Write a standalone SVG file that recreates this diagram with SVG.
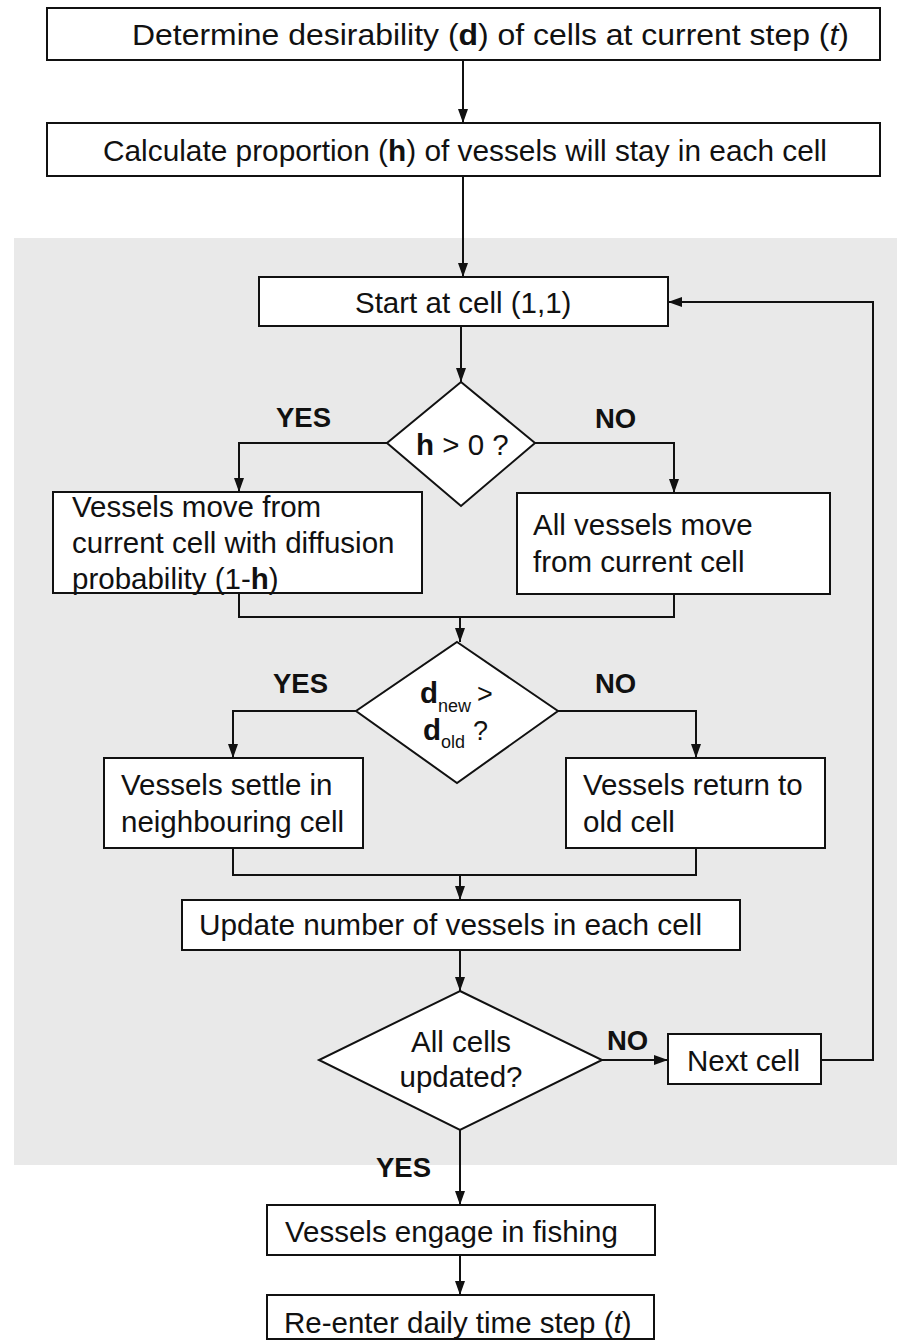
<svg xmlns="http://www.w3.org/2000/svg" width="897" height="1340" viewBox="0 0 897 1340">
<style>
.box{fill:#fff;stroke:#111;stroke-width:2}
.t{font-family:"Liberation Sans",Arial,sans-serif;font-size:29.5px;fill:#111}
.b{font-weight:bold}
.lbl{font-family:"Liberation Sans",Arial,sans-serif;font-size:27.5px;font-weight:bold;fill:#111}
.sub{font-size:18px}
.ln{fill:none;stroke:#111;stroke-width:2}
</style>
<defs>
<marker id="ah" markerUnits="userSpaceOnUse" markerWidth="14" markerHeight="10" refX="14" refY="5" orient="auto">
<path d="M0,0 L14,5 L0,10 z" fill="#111"/>
</marker>
</defs>
<rect width="897" height="1340" fill="#fff"/>
<rect x="14" y="238" width="883" height="927" fill="#e9e9e9"/>

<g id="connectors">
<path class="ln" d="M463,60 V123" marker-end="url(#ah)"/>
<path class="ln" d="M463,176 V277" marker-end="url(#ah)"/>
<path class="ln" d="M461,326 V382" marker-end="url(#ah)"/>
<path class="ln" d="M388,443 H239 V492" marker-end="url(#ah)"/>
<path class="ln" d="M535,443 H674 V493" marker-end="url(#ah)"/>
<path class="ln" d="M239,593 V617 H674 V594"/>
<path class="ln" d="M460,617 V642" marker-end="url(#ah)"/>
<path class="ln" d="M356,711 H233 V758" marker-end="url(#ah)"/>
<path class="ln" d="M558,711 H696 V758" marker-end="url(#ah)"/>
<path class="ln" d="M233,848 V875 H696 V848"/>
<path class="ln" d="M460,875 V900" marker-end="url(#ah)"/>
<path class="ln" d="M460,950 V991" marker-end="url(#ah)"/>
<path class="ln" d="M602,1060 H668" marker-end="url(#ah)"/>
<path class="ln" d="M821,1060 H873 V302 H668" marker-end="url(#ah)"/>
<path class="ln" d="M460,1130 V1205" marker-end="url(#ah)"/>
<path class="ln" d="M460,1255 V1295" marker-end="url(#ah)"/>
</g>

<g id="determine">
<rect class="box" x="47" y="8" width="833" height="52"/>
<text class="t" x="132" y="45" textLength="717" lengthAdjust="spacingAndGlyphs">Determine desirability (<tspan class="b">d</tspan>) of cells at current step (<tspan font-style="italic">t</tspan>)</text>
</g>

<g id="calculate">
<rect class="box" x="47" y="123" width="833" height="53"/>
<text class="t" x="103" y="161" textLength="724" lengthAdjust="spacingAndGlyphs">Calculate proportion (<tspan class="b">h</tspan>) of vessels will stay in each cell</text>
</g>

<g id="start">
<rect class="box" x="259" y="277" width="409" height="49"/>
<text class="t" x="355" y="313">Start at cell (1,1)</text>
</g>

<g id="d1">
<polygon class="box" points="461,382 535,443 461,506 387,443"/>
<text class="t" x="416" y="455"><tspan class="b">h</tspan> &gt; 0 ?</text>
</g>
<g id="yes1"><text class="lbl" x="276" y="427">YES</text></g>
<g id="no1"><text class="lbl" x="595" y="428">NO</text></g>

<g id="movefrac">
<rect class="box" x="53" y="492" width="369" height="101"/>
<text class="t" x="72" y="517">Vessels move from</text>
<text class="t" x="72" y="553">current cell with diffusion</text>
<text class="t" x="72" y="589">probability (1-<tspan class="b">h</tspan>)</text>
</g>

<g id="moveall">
<rect class="box" x="517" y="493" width="313" height="101"/>
<text class="t" x="533" y="535">All vessels move</text>
<text class="t" x="533" y="572">from current cell</text>
</g>

<g id="d2">
<polygon class="box" points="457,642 558,711 457,783 356,711"/>
<text class="t" x="420" y="703"><tspan class="b">d</tspan><tspan class="sub" dy="9" dx="0">new</tspan><tspan dy="-9" dx="6" font-size="27">&gt;</tspan></text>
<text class="t" x="423" y="740"><tspan class="b">d</tspan><tspan class="sub" dy="8">old</tspan><tspan dy="-8" dx="8" font-size="27">?</tspan></text>
</g>
<g id="yes2"><text class="lbl" x="273" y="693">YES</text></g>
<g id="no2"><text class="lbl" x="595" y="693">NO</text></g>

<g id="settle">
<rect class="box" x="104" y="758" width="259" height="90"/>
<text class="t" x="121" y="795">Vessels settle in</text>
<text class="t" x="121" y="832">neighbouring cell</text>
</g>

<g id="return">
<rect class="box" x="566" y="758" width="259" height="90"/>
<text class="t" x="583" y="795">Vessels return to</text>
<text class="t" x="583" y="832">old cell</text>
</g>

<g id="update">
<rect class="box" x="182" y="900" width="558" height="50"/>
<text class="t" x="199" y="935" textLength="503" lengthAdjust="spacingAndGlyphs">Update number of vessels in each cell</text>
</g>

<g id="d3">
<polygon class="box" points="460,991 602,1060 460,1130 319,1060"/>
<text class="t" x="461" y="1052" text-anchor="middle">All cells</text>
<text class="t" x="461" y="1087" text-anchor="middle">updated?</text>
</g>
<g id="no3"><text class="lbl" x="607" y="1050">NO</text></g>

<g id="next">
<rect class="box" x="668" y="1034" width="153" height="50"/>
<text class="t" x="687" y="1071">Next cell</text>
</g>

<g id="yes3"><text class="lbl" x="376" y="1177">YES</text></g>

<g id="fishing">
<rect class="box" x="267" y="1205" width="388" height="50"/>
<text class="t" x="285" y="1242">Vessels engage in fishing</text>
</g>

<g id="reenter">
<rect class="box" x="267" y="1295" width="387" height="44"/>
<text class="t" x="284" y="1333">Re-enter daily time step (<tspan font-style="italic">t</tspan>)</text>
</g>
</svg>
